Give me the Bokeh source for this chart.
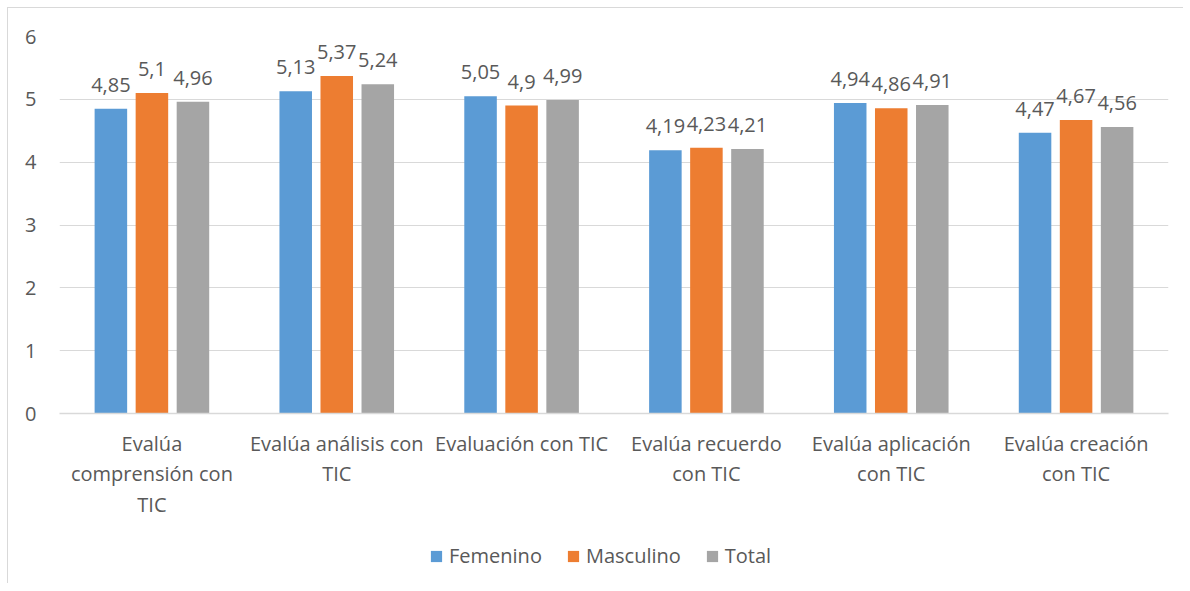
from bokeh.plotting import figure
from bokeh.models import (ColumnDataSource, FactorRange, Range1d, FixedTicker, LabelSet, Legend,
                          LegendItem, Column)
from bokeh.core.properties import value
from bokeh.transform import dodge
from bokeh.embed import file_html
from bokeh.resources import INLINE

categories = ["Evalúa\ncomprensión con\nTIC", "Evalúa análisis con\nTIC", "Evaluación con TIC",
              "Evalúa recuerdo\ncon TIC", "Evalúa aplicación\ncon TIC", "Evalúa creación\ncon TIC"]
femenino = [4.85, 5.13, 5.05, 4.19, 4.94, 4.47]
masculino = [5.10, 5.37, 4.90, 4.23, 4.86, 4.67]
total = [4.96, 5.24, 4.99, 4.21, 4.91, 4.56]
series_names = ["Femenino", "Masculino", "Total"]
colors = ["#5B9BD5", "#ED7D31", "#A5A5A5"]

def fmt(v):
    s = ("%.2f" % v).rstrip("0").rstrip(".")
    return s.replace(".", ",")

src = ColumnDataSource(dict(
    cat=categories,
    fem=femenino, mas=masculino, tot=total,
    fem_t=[fmt(v) for v in femenino],
    mas_t=[fmt(v) for v in masculino],
    tot_t=[fmt(v) for v in total],
))

FONT = "Open Sans"
TXT = "#595959"

p = figure(width=1175, height=520, x_range=FactorRange(*categories, range_padding=0),
           y_range=Range1d(0, 6), output_backend="svg", toolbar_location=None,
           min_border_left=51, min_border_right=15, min_border_top=28, min_border_bottom=115)
p.x_range.factor_padding = 0

offsets = [-0.222, 0.0, 0.222]
cols = ["fem", "mas", "tot"]
for name, col, off, c in zip(series_names, cols, offsets, colors):
    p.vbar(x=dodge("cat", off, range=p.x_range), top=col, width=0.176, source=src,
           fill_color=c, line_color=None)
    lab = LabelSet(x=dodge("cat", off, range=p.x_range), y=col, text=col + "_t", source=src,
                   text_align="center", text_baseline="alphabetic", y_offset=17,
                   text_font=value(FONT), text_font_size=value("20px"), text_color=value(TXT))
    p.add_layout(lab)

p.outline_line_color = None
p.xgrid.grid_line_color = None
p.ygrid.grid_line_color = "#d9d9d9"
p.ygrid.grid_line_width = 1
p.yaxis.ticker = FixedTicker(ticks=[0, 1, 2, 3, 4, 5, 6])
p.yaxis.axis_line_color = None
p.yaxis.major_tick_line_color = None
p.yaxis.minor_tick_line_color = None
p.yaxis.major_label_standoff = 17
p.yaxis.major_label_text_font = FONT
p.yaxis.major_label_text_font_size = "20px"
p.yaxis.major_label_text_color = TXT

p.xaxis.axis_line_color = "#d9d9d9"
p.xaxis.axis_line_width = 1.5
p.xaxis.major_tick_line_color = None
p.xaxis.minor_tick_line_color = None
p.xaxis.major_label_standoff = 10
p.xaxis.major_label_text_font = FONT
p.xaxis.major_label_text_font_size = "20px"
p.xaxis.major_label_text_color = TXT
p.xaxis.major_label_text_line_height = 1.13

# legend strip: a second figure whose (zero-height) bars lie outside its view; only the legend shows
lg = figure(width=1175, height=55, x_range=FactorRange(*categories), y_range=Range1d(100, 101),
            output_backend="svg", toolbar_location=None,
            x_axis_location=None, y_axis_location=None,
            min_border_left=0, min_border_right=0, min_border_top=0, min_border_bottom=0)
lg.grid.visible = False
lg.outline_line_color = None
items = []
for name, col, c in zip(series_names, cols, colors):
    r = lg.vbar(x="cat", top=col, bottom=col, width=0.176, source=src, fill_color=c, line_color=None)
    items.append(LegendItem(label=name, renderers=[r]))
legend = Legend(items=items, orientation="horizontal", location=(370, 14),
                glyph_width=14, glyph_height=14, label_standoff=6, spacing=24,
                label_text_font=FONT, label_text_font_size="20px", label_text_color=TXT,
                border_line_color=None, background_fill_alpha=0, margin=0, padding=5)
lg.add_layout(legend)

layout = Column(p, lg, spacing=0, margin=(7, 0, 0, 7),
                styles={"border-left": "1px solid #d9d9d9", "border-top": "1px solid #d9d9d9"})

open("out.html", "w").write(file_html(layout, INLINE))
